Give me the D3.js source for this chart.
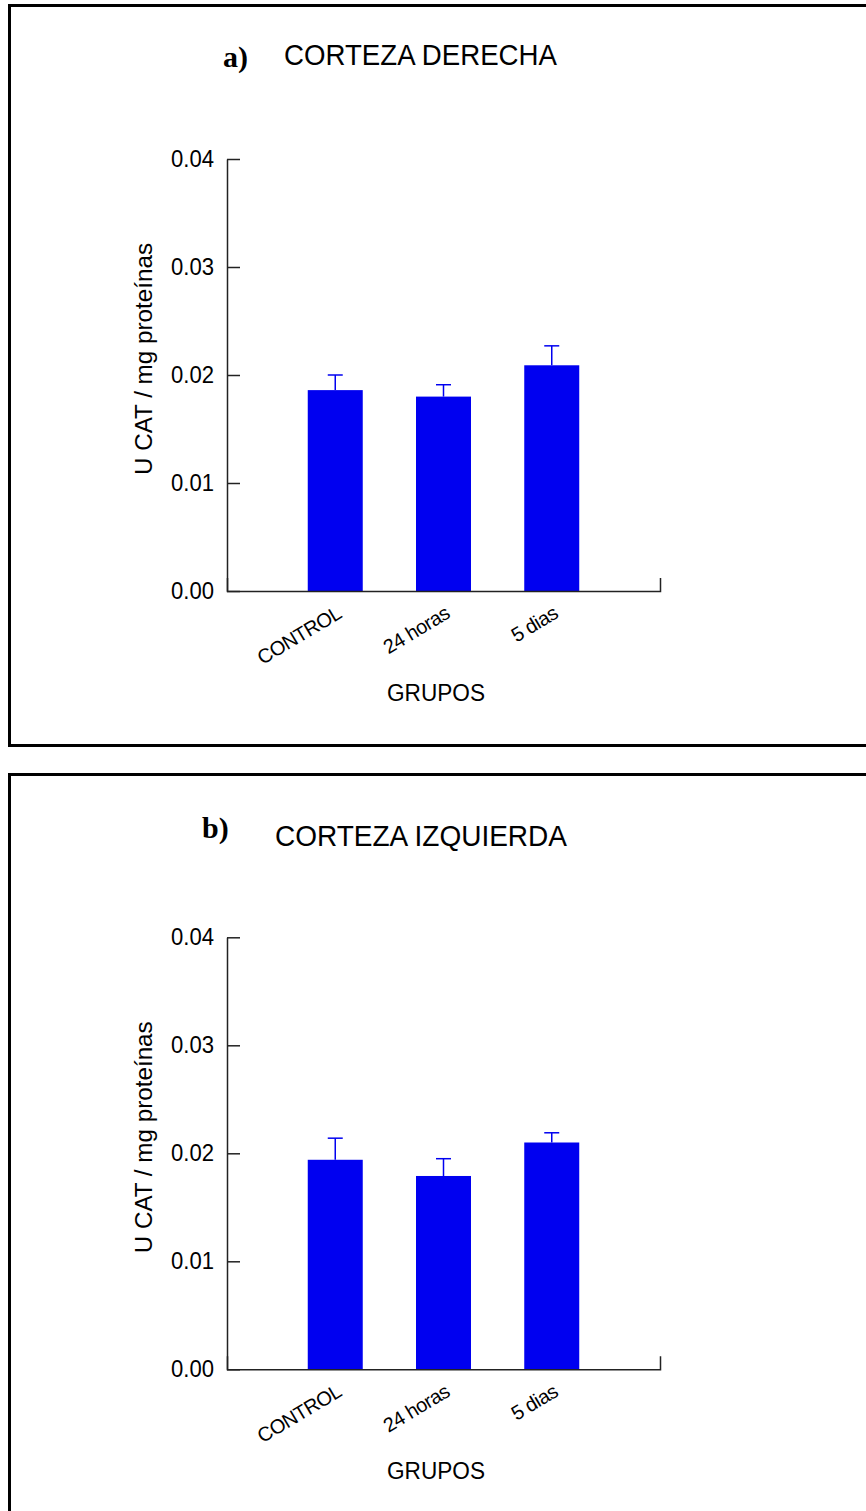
<!DOCTYPE html>
<html>
<head>
<meta charset="utf-8">
<script src="https://cdn.jsdelivr.net/npm/d3@7"></script>
<style>
  html, body { margin: 0; padding: 0; background: #fff; }
  svg { display: block; }
  text { font-family: "Liberation Sans", Arial, sans-serif; fill: #000; }
</style>
</head>
<body>
<script>
// ---- data ----
const categories = ["CONTROL", "24 horas", "5 dias"];
const meansA = [0.0186, 0.0180, 0.0209];
const errA   = [0.0014, 0.0011, 0.0018];
const meansB = [0.0194, 0.0179, 0.0210];
const errB   = [0.0020, 0.0016, 0.0009];
const yTicks = [0, 0.01, 0.02, 0.03, 0.04];
const yTickLabels = ["0.00", "0.01", "0.02", "0.03", "0.04"];
const panelLetters = ["a)", "b)"];
const panelTitles = ["CORTEZA DERECHA", "CORTEZA IZQUIERDA"];
const yLabel = "U CAT / mg proteínas";
const xLabel = "GRUPOS";

const W = 866, H = 1511;
const svg = d3.select("body").append("svg").attr("width", W).attr("height", H);
svg.append("rect").attr("width", W).attr("height", H).attr("fill", "#fff");

const panels = [
  { frameY: 5.5, frameH: 740, y0: 591, y1: 159, means: meansA, errs: errA,
    letterX: 223, letterY: 67, titleX: 284, titleY: 65, titleLen: 273 },
  { frameY: 774.5, frameH: 760, y0: 1369.3, y1: 937.3, means: meansB, errs: errB,
    letterX: 202, letterY: 838, titleX: 275, titleY: 846, titleLen: 292 }
];

const blue = "#0000f0";
const axisColor = "#222";

panels.forEach((p, pi) => {
  const g = svg.append("g");
  // frame
  g.append("rect").attr("x", 9.5).attr("y", p.frameY)
    .attr("width", 900).attr("height", p.frameH)
    .attr("fill", "none").attr("stroke", "#000").attr("stroke-width", 3);

  // titles
  g.append("text").attr("x", p.letterX).attr("y", p.letterY)
    .style("font-family", "'Liberation Serif', 'Times New Roman', serif")
    .style("font-weight", "bold").style("font-size", "30px")
    .text(panelLetters[pi]);
  g.append("text").attr("x", p.titleX).attr("y", p.titleY)
    .style("font-size", "29px")
    .attr("textLength", p.titleLen).attr("lengthAdjust", "spacingAndGlyphs")
    .text(panelTitles[pi]);

  const x = d3.scalePoint().domain(["_s", ...categories, "_e"]).range([227, 660]);
  const y = d3.scaleLinear().domain([0, 0.04]).range([p.y0, p.y1]);
  const bw = 55;

  // bars
  g.selectAll(".bar").data(categories).enter().append("rect")
    .attr("x", d => x(d) - bw / 2)
    .attr("y", (d, i) => y(p.means[i]))
    .attr("width", bw)
    .attr("height", (d, i) => y(0) - y(p.means[i]))
    .attr("fill", blue);

  // error bars (upper)
  const eb = g.selectAll(".eb").data(categories).enter().append("g")
    .attr("stroke", blue).attr("stroke-width", 1.5);
  eb.append("line")
    .attr("x1", d => x(d)).attr("x2", d => x(d))
    .attr("y1", (d, i) => y(p.means[i]))
    .attr("y2", (d, i) => y(p.means[i] + p.errs[i]));
  eb.append("line")
    .attr("x1", d => x(d) - 7.5).attr("x2", d => x(d) + 7.5)
    .attr("y1", (d, i) => y(p.means[i] + p.errs[i]))
    .attr("y2", (d, i) => y(p.means[i] + p.errs[i]));

  // y axis
  const yAxis = d3.axisLeft(y).tickValues(yTicks)
    .tickFormat((d, i) => yTickLabels[i])
    .tickSizeInner(-13).tickSizeOuter(0).tickPadding(13);
  const ya = g.append("g").attr("transform", "translate(227,0)").call(yAxis);
  ya.select(".domain").attr("stroke", axisColor).attr("stroke-width", 1.5);
  ya.selectAll(".tick line").attr("stroke", axisColor).attr("stroke-width", 1.5);
  ya.selectAll(".tick text").style("font-size", "24px")
    .attr("textLength", 43).attr("lengthAdjust", "spacingAndGlyphs")
    .attr("fill", "#000").style("font-family", "'Liberation Sans', Arial, sans-serif");

  // x axis
  const xAxis = d3.axisBottom(x).tickValues(categories).tickSizeInner(0).tickSizeOuter(-13).tickPadding(0);
  const xa = g.append("g").attr("transform", `translate(0,${p.y0})`).call(xAxis);
  xa.select(".domain").attr("stroke", axisColor).attr("stroke-width", 1.5);
  xa.selectAll(".tick line").remove();
  xa.selectAll(".tick text")
    .style("font-size", "20px").style("font-family", "'Liberation Sans', Arial, sans-serif")
    .style("letter-spacing", "-0.6px")
    .attr("fill", "#000")
    .attr("text-anchor", "end")
    .attr("dy", null)
    .attr("y", 0)
    .attr("transform", "translate(7,26) rotate(-31)");

  // axis titles
  g.append("text").attr("x", 436).attr("y", p.y0 + 110)
    .attr("text-anchor", "middle").style("font-size", "23px")
    .attr("textLength", 98).attr("lengthAdjust", "spacingAndGlyphs")
    .text(xLabel);
  const ymid = (p.y0 + p.y1) / 2 - 16;
  g.append("text")
    .attr("transform", `translate(152,${ymid}) rotate(-90)`)
    .attr("text-anchor", "middle").style("font-size", "23px")
    .attr("textLength", 232).attr("lengthAdjust", "spacingAndGlyphs")
    .text(yLabel);
});
</script>
</body>
</html>
